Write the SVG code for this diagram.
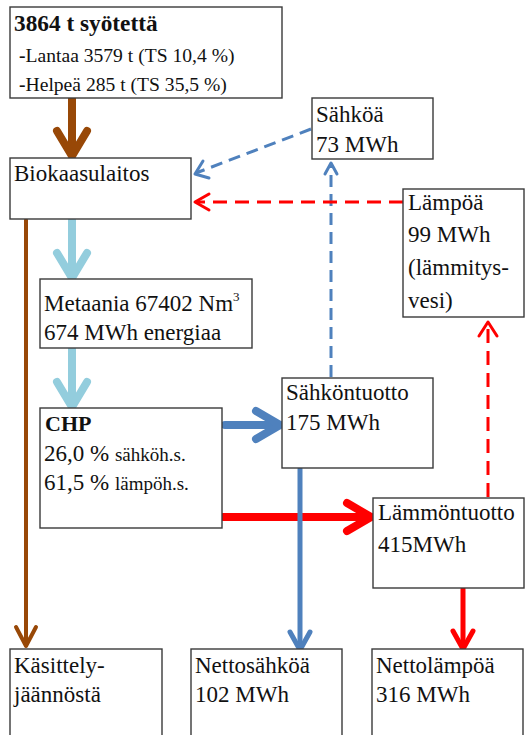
<svg xmlns="http://www.w3.org/2000/svg" width="526" height="735" viewBox="0 0 526 735">
  <style>
    .box { fill: #ffffff; stroke: #3a3a3a; stroke-width: 1.4; }
    text { font-family: "Liberation Serif", "Times New Roman", serif; fill: #111111; }
    .t { font-size: 23px; }
    .s { font-size: 19px; }
    .f { font-size: 19.6px; }
    .b { font-weight: bold; }
    .ln { fill: none; stroke-linecap: round; stroke-linejoin: round; }
    .brown { stroke: #984807; }
    .lblue { stroke: #93CDDD; }
    .blue { stroke: #4F81BD; }
    .red { stroke: #FF0000; }
    .dashb { stroke-dasharray: 12 7; stroke-linecap: butt; }
    .dashr { stroke-dasharray: 14 8; stroke-linecap: butt; }
  </style>

  <!-- connectors: shafts and open chevron heads -->
  <g id="connectors">
    <!-- feed into plant -->
    <line class="ln brown" x1="72" y1="99" x2="72" y2="155" stroke-width="8"/>
    <polyline class="ln brown" points="57,131 72,156 87,131" stroke-width="8"/>
    <!-- plant to methane -->
    <line class="ln lblue" x1="72" y1="220" x2="72" y2="277" stroke-width="8"/>
    <polyline class="ln lblue" points="57,253 72,278 87,253" stroke-width="8"/>
    <!-- methane to CHP -->
    <line class="ln lblue" x1="72" y1="349" x2="72" y2="406" stroke-width="8"/>
    <polyline class="ln lblue" points="57,382 72,407 87,382" stroke-width="8"/>
    <!-- digestate -->
    <line class="ln brown" x1="26" y1="220" x2="26" y2="645" stroke-width="4"/>
    <polyline class="ln brown" points="16,627 26,646 36,627" stroke-width="4"/>
    <!-- own electricity back to plant -->
    <line class="ln blue dashb" x1="311" y1="129" x2="196" y2="173" stroke-width="3"/>
    <polyline class="ln blue" points="209,178 195,174 203,161" stroke-width="3"/>
    <!-- electricity output to own use -->
    <line class="ln blue dashb" x1="331" y1="377" x2="331" y2="165" stroke-width="3"/>
    <polyline class="ln blue" points="325,174 331,163 337,174" stroke-width="3"/>
    <!-- own heat back to plant -->
    <line class="ln red dashr" x1="403" y1="202" x2="197" y2="202" stroke-width="3"/>
    <polyline class="ln red" points="209,194 195,202 209,210" stroke-width="3"/>
    <!-- heat output to own use -->
    <line class="ln red dashr" x1="488" y1="497" x2="488" y2="324" stroke-width="3"/>
    <polyline class="ln red" points="479,336 488,322 497,336" stroke-width="3"/>
    <!-- CHP electricity -->
    <line class="ln blue" x1="225" y1="425" x2="279" y2="425" stroke-width="8"/>
    <polyline class="ln blue" points="256,411 280,425 256,439" stroke-width="8"/>
    <!-- CHP heat -->
    <line class="ln red" x1="223" y1="517" x2="370" y2="517" stroke-width="8"/>
    <polyline class="ln red" points="347,503 371,517 347,531" stroke-width="8"/>
    <!-- net electricity -->
    <line class="ln blue" x1="300" y1="469" x2="300" y2="649" stroke-width="5"/>
    <polyline class="ln blue" points="290,632 300,650 310,632" stroke-width="5"/>
    <!-- net heat -->
    <line class="ln red" x1="463" y1="589" x2="463" y2="648" stroke-width="5"/>
    <polyline class="ln red" points="453,631 463,649 473,631" stroke-width="5"/>
  </g>

  <g id="feed">
    <rect class="box" x="10" y="7" width="272" height="91"/>
    <text class="b" x="14" y="31" font-size="23.3">3864 t syötettä</text>
    <text class="f" x="19" y="62"><tspan class="b">-</tspan>Lantaa 3579 t (TS 10,4 %)</text>
    <text class="f" x="19" y="91"><tspan class="b">-</tspan>Helpeä 285 t (TS 35,5 %)</text>
  </g>

  <g id="biokaasulaitos">
    <rect class="box" x="10" y="158" width="181" height="61"/>
    <text class="t" x="14" y="181">Biokaasulaitos</text>
  </g>

  <g id="sahkoa">
    <rect class="box" x="312" y="98" width="121" height="61"/>
    <text class="t" x="316" y="122">Sähköä</text>
    <text class="t" x="316" y="152">73 MWh</text>
  </g>

  <g id="lampoa">
    <rect class="box" x="403" y="189" width="121" height="128"/>
    <text class="t" x="408" y="210">Lämpöä</text>
    <text class="t" x="408" y="242">99 MWh</text>
    <text class="t" x="408" y="275">(lämmitys-</text>
    <text class="t" x="408" y="308">vesi)</text>
  </g>

  <g id="metaani">
    <rect class="box" x="40" y="279" width="212" height="69"/>
    <text class="t" x="44" y="311">Metaania 67402 Nm<tspan font-size="13" dy="-10">3</tspan></text>
    <text class="t" x="44" y="340">674 MWh energiaa</text>
  </g>

  <g id="chp">
    <rect class="box" x="40" y="408" width="182" height="120"/>
    <text class="b" x="45" y="431" font-size="22">CHP</text>
    <text class="t" x="44" y="461">26,0 % <tspan class="s">sähköh.s.</tspan></text>
    <text class="t" x="44" y="490">61,5 % <tspan class="s">lämpöh.s.</tspan></text>
  </g>

  <g id="sahkontuotto">
    <rect class="box" x="282" y="378" width="151" height="90"/>
    <text class="t" x="286" y="400">Sähköntuotto</text>
    <text class="t" x="286" y="430">175 MWh</text>
  </g>

  <g id="lammontuotto">
    <rect class="box" x="373" y="498" width="151" height="90"/>
    <text class="t" x="378" y="520">Lämmöntuotto</text>
    <text class="t" x="378" y="552">415MWh</text>
  </g>

  <g id="kasittelyjaannos">
    <rect class="box" x="10" y="649" width="152" height="100"/>
    <text class="t" x="14" y="673">Käsittely-</text>
    <text class="t" x="14" y="702">jäännöstä</text>
  </g>

  <g id="nettosahko">
    <rect class="box" x="191" y="649" width="151" height="100"/>
    <text class="t" x="195" y="673">Nettosähköä</text>
    <text class="t" x="195" y="702">102 MWh</text>
  </g>

  <g id="nettolampo">
    <rect class="box" x="372" y="649" width="151" height="100"/>
    <text class="t" x="376" y="673">Nettolämpöä</text>
    <text class="t" x="376" y="702">316 MWh</text>
  </g>
</svg>
